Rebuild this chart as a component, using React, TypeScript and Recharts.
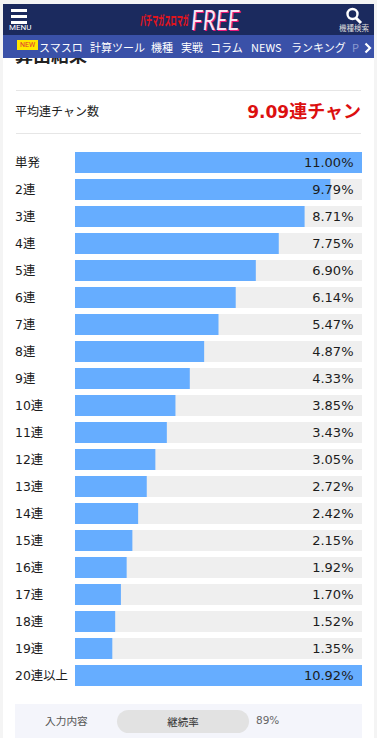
import React from 'react';
import { BarChart, Bar, XAxis, YAxis, LabelList } from 'recharts';

const categories = ['単発', '2連', '3連', '4連', '5連', '6連', '7連', '8連', '9連', '10連', '11連', '12連', '13連', '14連', '15連', '16連', '17連', '18連', '19連', '20連以上'];
const percents = [11.0, 9.79, 8.71, 7.75, 6.9, 6.14, 5.47, 4.87, 4.33, 3.85, 3.43, 3.05, 2.72, 2.42, 2.15, 1.92, 1.7, 1.52, 1.35, 10.92];
// bar length as share of the track (not proportional to the labels)
const barShares = [100, 89, 80, 71, 63, 56, 50, 45, 40, 35, 32, 28, 25, 22, 20, 18, 16, 14, 13, 100];
const navItems = ['スマスロ', '計算ツール', '機種', '実戦', 'コラム', 'NEWS', 'ランキング'];
const navLefts = [39, 90, 151, 181, 210, 251, 291];

const JP = '"Noto Sans CJK JP", "DejaVu Sans", sans-serif';
const NUM = '"DejaVu Sans", "Noto Sans CJK JP", sans-serif';

const chartData = categories.map((name, i) => ({ name, share: barShares[i], percent: percents[i] }));

const CategoryTick = ({ y, payload }: any) => (
  <text x={15} y={y} dy={4} fontSize={12.4} fill="#1c1c1c" fontFamily={NUM}>{payload.value}</text>
);

const PercentLabel = ({ y, height, value }: any) => (
  <text x={353.5} y={y + height / 2} dy={4.5} textAnchor="end" fontSize={13} fill="#1c1c1c" fontFamily={NUM}>
    {Number(value).toFixed(2)}%
  </text>
);

const abs = (left: number, top: number, extra: React.CSSProperties = {}): React.CSSProperties => ({
  position: 'absolute', left, top, whiteSpace: 'nowrap', ...extra,
});

const App = () => (
  <div style={{ position: 'fixed', left: 0, top: 0, width: 377, height: 738, overflow: 'hidden', background: '#f4f4f4', fontFamily: JP }}>
    <div style={abs(3, 4, { width: 371, height: 734, background: '#fff' })} />
    {/* clipped heading under the sticky header */}
    <div style={abs(15, 41, { fontSize: 18, fontWeight: 700, color: '#222' })}>算出結果</div>

    {/* header */}
    <div style={abs(3, 4, { width: 371, height: 31, background: '#1b2a5e' })} />
    <div style={abs(3, 35, { width: 371, height: 23, background: '#3a51a8' })} />
    <div style={abs(11, 9, { width: 16, height: 2.5, background: '#fff' })} />
    <div style={abs(11, 15, { width: 16, height: 2.5, background: '#fff' })} />
    <div style={abs(11, 21, { width: 16, height: 2.5, background: '#fff' })} />
    <div style={abs(9, 23, { fontSize: 8, color: '#fff', fontFamily: 'Roboto' })}>MENU</div>
    <div style={abs(140, 11, { fontSize: 13, lineHeight: '18px', fontWeight: 900, color: '#e0141c', transform: 'scaleX(0.47)', transformOrigin: 'left center' })}>パチマガスロマガ</div>
    <div style={abs(191, 3, { fontSize: 27, lineHeight: '34px', fontWeight: 400, fontStyle: 'italic', color: '#fbe3f2', fontFamily: 'Lato', textShadow: '1px 1px 0 #e8187c', transform: 'scaleX(0.82)', transformOrigin: 'left center' })}>FREE</div>
    <svg style={abs(345, 7)} width="18" height="18" viewBox="0 0 18 18">
      <circle cx="7.5" cy="7" r="5" fill="none" stroke="#fff" strokeWidth="2.4" />
      <line x1="11" y1="11" x2="16" y2="16" stroke="#fff" strokeWidth="3" />
    </svg>
    <div style={abs(339, 22, { fontSize: 7.5, color: '#ddd' })}>機種検索</div>

    {/* nav */}
    <div style={abs(17, 40, { width: 21, height: 10, background: '#ffe600', color: '#d33', fontSize: 7, lineHeight: '10px', textAlign: 'center', fontFamily: 'Roboto' })}>NEW</div>
    {navItems.map((t, i) => (
      <div key={t} style={abs(navLefts[i], 40, { fontSize: 11, lineHeight: '15px', color: '#fff' })}>{t}</div>
    ))}
    <div style={abs(352, 40, { fontSize: 11, lineHeight: '15px', color: '#8d9bd0' })}>P</div>
    <svg style={abs(364, 42)} width="8" height="12" viewBox="0 0 8 12">
      <polyline points="1.5,1.5 6,6 1.5,10.5" fill="none" stroke="#fff" strokeWidth="2.2" />
    </svg>

    {/* average */}
    <div style={abs(16, 90, { width: 345, height: 1, background: '#e6e6e6' })} />
    <div style={abs(15, 102, { fontSize: 12, lineHeight: '18px', color: '#222' })}>平均連チャン数</div>
    <div style={abs(221, 98, { width: 140, textAlign: 'right', lineHeight: '25px', fontWeight: 700, color: '#dc0f0f' })}>
      <span style={{ fontSize: 17, fontFamily: NUM }}>9.09</span>
      <span style={{ fontSize: 18 }}>連チャン</span>
    </div>
    <div style={abs(16, 133, { width: 345, height: 1, background: '#e6e6e6' })} />

    {/* chart */}
    <div style={abs(0, 149)}>
      <BarChart
        width={377}
        height={540}
        layout="vertical"
        data={chartData}
        margin={{ top: 0, right: 15, bottom: 0, left: 0 }}
        barCategoryGap={3}
      >
        <XAxis type="number" domain={[0, 100]} hide />
        <YAxis
          type="category"
          dataKey="name"
          width={75}
          axisLine={false}
          tickLine={false}
          interval={0}
          tick={<CategoryTick />}
        />
        <Bar dataKey="share" fill="#66adff" background={{ fill: '#efefef' }} isAnimationActive={false}>
          <LabelList dataKey="percent" content={<PercentLabel />} />
        </Bar>
      </BarChart>
    </div>

    {/* input summary */}
    <div style={abs(15, 704, { width: 347, height: 34, background: '#f4f5fb' })} />
    <div style={abs(45, 713, { fontSize: 10.7, lineHeight: '15px', color: '#555' })}>入力内容</div>
    <div style={abs(117, 710, { width: 132, height: 23, borderRadius: 12, background: '#e2e2e2', fontSize: 10.5, lineHeight: '23px', textAlign: 'center', color: '#333' })}>継続率</div>
    <div style={abs(256, 713, { fontSize: 10.5, lineHeight: '15px', color: '#666', fontFamily: NUM })}>89%</div>
  </div>
);

export default App;
